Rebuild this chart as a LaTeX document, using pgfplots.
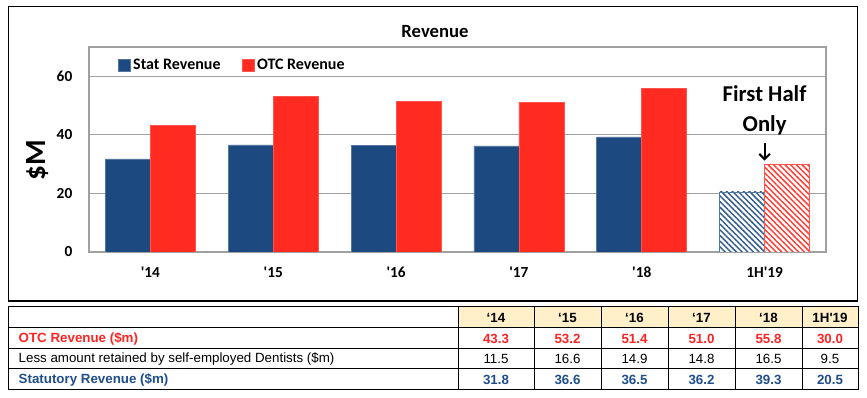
\documentclass[border=0pt]{standalone}
\usepackage{fontspec}
\setmainfont{Carlito}
\newfontfamily\arialfont{Liberation Sans}
\usepackage{pgfplots}
\pgfplotsset{compat=1.18}
\usetikzlibrary{patterns.meta,arrows.meta}
\definecolor{statblue}{HTML}{1C4A80}
\definecolor{otcred}{HTML}{FF2A20}
\definecolor{hdrfill}{HTML}{FFF0CA}
\definecolor{tblue}{HTML}{1F4E8C}
\definecolor{tred}{HTML}{FF2424}
\definecolor{gridgray}{HTML}{A0A0A0}
\begin{document}
\begin{tikzpicture}
\begin{scope}[x=0.75pt,y=-0.75pt]
\useasboundingbox (0,0) rectangle (867,398);
\draw[line width=1.1pt] (8.5,6.5) rectangle (857.5,301);
\node[font=\bfseries\fontsize{14}{16}\selectfont] at (435,32) {Revenue};
\node[font=\bfseries\fontsize{22}{24}\selectfont, rotate=90] at (38,160) {\$M};
% table
\fill[hdrfill] (458,307) rectangle (858,328);
\draw[line width=0.75pt] (8,307) rectangle (858,390);
\foreach \y in {328,349,369} \draw[line width=0.75pt] (8,\y) -- (858,\y);
\foreach \x in {458,534,601,668,735,802} \draw[line width=0.75pt] (\x,307) -- (\x,390);
\begin{scope}[every node/.style={font=\arialfont\fontsize{10}{12}\selectfont}]
\node[anchor=west,text=tred,font=\arialfont\bfseries\fontsize{10}{12}\selectfont] at (14,338.5) {OTC Revenue (\$m)};
\node[anchor=west] at (14,359) {Less amount retained by self-employed Dentists (\$m)};
\node[anchor=west,text=tblue,font=\arialfont\bfseries\fontsize{10}{12}\selectfont] at (14,379.5) {Statutory Revenue (\$m)};
\foreach \x/\h/\a/\b/\c in {496/‘14/43.3/11.5/31.8, 567.5/‘15/53.2/16.6/36.6, 634.5/‘16/51.4/14.9/36.5, 701.5/‘17/51.0/14.8/36.2, 768.5/‘18/55.8/16.5/39.3, 830/1H\textquotesingle19/30.0/9.5/20.5}{
  \node[font=\arialfont\bfseries\fontsize{10}{12}\selectfont] at (\x,317.5) {\h};
  \node[text=tred,font=\arialfont\bfseries\fontsize{10}{12}\selectfont] at (\x,338.5) {\a};
  \node at (\x,359) {\b};
  \node[text=tblue,font=\arialfont\bfseries\fontsize{10}{12}\selectfont] at (\x,379.5) {\c};
}
\end{scope}
\end{scope}
\begin{axis}[
  at={(66.75pt,-189pt)}, anchor=south west,
  scale only axis, width=552.75pt, height=153.75pt,
  xmin=-0.5, xmax=5.5, ymin=0, ymax=70,
  ytick={0,20,40,60},
  xtick={0,1,2,3,4,5},
  xticklabels={\textquotesingle14,\textquotesingle15,\textquotesingle16,\textquotesingle17,\textquotesingle18,1H\textquotesingle19},
  ymajorgrids, grid style={gridgray, line width=0.75pt},
  axis line style={gridgray, line width=0.9pt},
  major tick length=0pt,
  /pgf/number format/assume math mode=true,
  tick label style={font=\bfseries\fontsize{11.5}{13}\selectfont},
  yticklabel style={xshift=-9pt},
  xticklabel style={yshift=-8pt},
  ybar, bar width=33.75pt,
  legend style={at={(0.039,0.912)}, anchor=west, draw=none, fill=none,
    font=\bfseries\fontsize{12}{14}\selectfont, inner sep=0pt,
    /tikz/every even column/.append style={column sep=14pt}},
  legend columns=2,
  legend image code/.code={\fill[#1] (0pt,-4.5pt) rectangle (9pt,4.5pt);},
]
\addplot[fill=statblue, draw=statblue!75!white, bar shift=-16.875pt] coordinates {(0,31.8)(1,36.6)(2,36.5)(3,36.2)(4,39.3)};
\addlegendentry{Stat Revenue}
\addplot[fill=otcred, draw=otcred!80!white, bar shift=16.875pt] coordinates {(0,43.3)(1,53.2)(2,51.4)(3,51.0)(4,55.8)};
\addlegendentry{OTC Revenue}
\addplot[forget plot, fill=white, postaction={pattern={Lines[angle=-45,distance=3pt,line width=1.1pt]}, pattern color=statblue!90!white}, draw=statblue!75!white, bar shift=-16.875pt] coordinates {(5,20.5)};
\addplot[forget plot, fill=white, postaction={pattern={Lines[angle=-45,distance=3pt,line width=1.1pt]}, pattern color=otcred!90!white}, draw=otcred!80!white, bar shift=16.875pt] coordinates {(5,30.0)};
\node[font=\bfseries\fontsize{17}{22.5}\selectfont, align=center] at (axis cs:5,48.5) {First Half\\Only};
\draw[line width=1.5pt, -{Straight Barb[length=4pt,width=8pt]}] (axis cs:5,37.3) -- (axis cs:5,31.2);
\end{axis}
\end{tikzpicture}
\end{document}
